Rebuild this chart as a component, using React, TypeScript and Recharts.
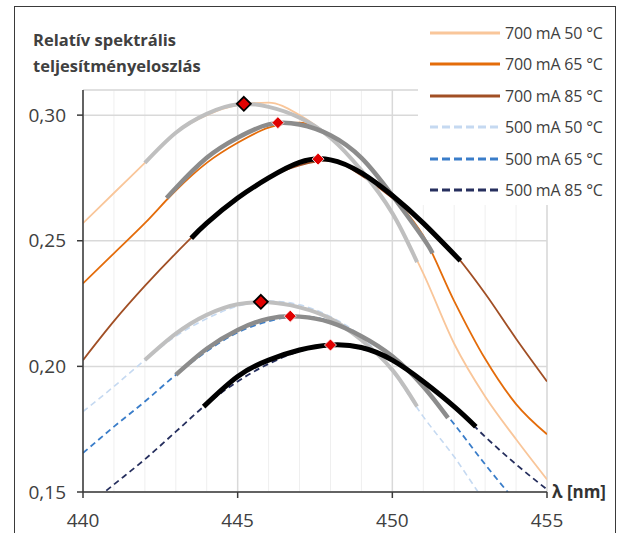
import React from 'react';
import {
  ComposedChart,
  Line,
  Scatter,
  XAxis,
  YAxis,
  CartesianGrid,
} from 'recharts';

// wavelength grid (nm) and measured relative spectral power
const wavelengths = [440, 441, 442, 443, 444, 445, 446, 447, 448, 449, 450, 451, 452, 453, 454, 455];
const s700_50 = [0.257, 0.269, 0.281, 0.293, 0.3, 0.304, 0.305, 0.3, 0.291, 0.278, 0.261, 0.237, 0.209, 0.188, 0.171, 0.155];
const s700_65 = [0.233, 0.245, 0.257, 0.27, 0.281, 0.289, 0.295, 0.297, 0.292, 0.283, 0.268, 0.252, 0.226, 0.203, 0.185, 0.173];
const s700_85 = [0.2025, 0.218, 0.232, 0.245, 0.257, 0.267, 0.275, 0.28, 0.282, 0.276, 0.267, 0.257, 0.245, 0.229, 0.211, 0.194];
const s500_50 = [0.182, 0.192, 0.2025, 0.212, 0.219, 0.224, 0.226, 0.2245, 0.2198, 0.2118, 0.198, 0.18, 0.164, 0.146, 0.13, 0.114];
const s500_65 = [0.1655, 0.176, 0.186, 0.1966, 0.206, 0.2135, 0.218, 0.22, 0.218, 0.212, 0.204, 0.192, 0.177, 0.161, 0.146, 0.132];
const s500_85 = [0.143, 0.153, 0.163, 0.174, 0.185, 0.194, 0.201, 0.206, 0.2085, 0.207, 0.2025, 0.194, 0.184, 0.172, 0.161, 0.151];

// fitted curves around the peaks
const fitA_x = [442, 443, 444, 445, 446, 447, 448, 449, 450, 450.8];
const fitA_y = [0.281, 0.293, 0.3005, 0.3043, 0.3033, 0.299, 0.291, 0.278, 0.261, 0.2415];
const fitB_x = [442.7, 443, 444, 445, 446, 447, 448, 449, 450, 451, 451.3];
const fitB_y = [0.267, 0.271, 0.283, 0.291, 0.2963, 0.2963, 0.292, 0.283, 0.268, 0.251, 0.245];
const fitC_x = [443.5, 444, 445, 446, 447, 448, 449, 450, 451, 452.2];
const fitC_y = [0.251, 0.257, 0.267, 0.275, 0.2812, 0.2822, 0.277, 0.268, 0.257, 0.242];
const fitD_x = [442, 443, 444, 445, 446, 447, 448, 449, 450, 450.8];
const fitD_y = [0.2025, 0.213, 0.2205, 0.2247, 0.2255, 0.2235, 0.219, 0.2105, 0.1986, 0.184];
const fitE_x = [443, 444, 445, 446, 447, 448, 449, 450, 451, 451.8];
const fitE_y = [0.1966, 0.207, 0.2145, 0.219, 0.2198, 0.2175, 0.212, 0.204, 0.192, 0.1795];
const fitF_x = [443.9, 445, 446, 447, 448, 449, 450, 451, 452, 452.7];
const fitF_y = [0.184, 0.196, 0.2025, 0.2065, 0.2085, 0.2075, 0.2025, 0.194, 0.184, 0.176];

// peak markers
const peakX = [445.2, 446.3, 447.6, 445.75, 446.7, 448.0];
const peakY = [0.3045, 0.297, 0.2825, 0.2257, 0.22, 0.2085];
const peakOutlined = [true, false, false, true, false, false];

const xTicks = [440, 445, 450, 455];
const yTicks = [0.15, 0.2, 0.25, 0.3];
const xMinor = [441, 442, 443, 444, 446, 447, 448, 449, 451, 452, 453, 454];
const yMinor = [0.16, 0.17, 0.18, 0.19, 0.21, 0.22, 0.23, 0.24, 0.26, 0.27, 0.28, 0.29, 0.31];

const seriesNames = ['700 mA 50 °C', '700 mA 65 °C', '700 mA 85 °C', '500 mA 50 °C', '500 mA 65 °C', '500 mA 85 °C'];
const seriesColors = ['#f9c69a', '#e46c0a', '#a14f25', '#c5d9f1', '#3a7dc9', '#262f5e'];
const seriesKeys = ['a', 'b', 'c', 'd', 'e', 'f'];
const seriesValues = [s700_50, s700_65, s700_85, s500_50, s500_65, s500_85];

const data = wavelengths.map((x, i) => {
  const row: Record<string, number> = { x };
  seriesKeys.forEach((k, j) => {
    row[k] = seriesValues[j][i];
  });
  return row;
});

const toPts = (xs: number[], ys: number[]) => xs.map((x, i) => ({ x, y: ys[i] }));
const fits = [
  { pts: toPts(fitA_x, fitA_y), color: '#bfbfbf', w: 4 },
  { pts: toPts(fitB_x, fitB_y), color: '#8c8c8c', w: 4.5 },
  { pts: toPts(fitC_x, fitC_y), color: '#000000', w: 5 },
  { pts: toPts(fitD_x, fitD_y), color: '#bfbfbf', w: 4 },
  { pts: toPts(fitE_x, fitE_y), color: '#8c8c8c', w: 4.5 },
  { pts: toPts(fitF_x, fitF_y), color: '#000000', w: 5 },
];
const peaks = peakX.map((x, i) => ({ x, y: peakY[i], outlined: peakOutlined[i] }));

const Diamond = (props: any) => {
  const { cx, cy, payload } = props;
  if (cx == null || cy == null) return null;
  const big = payload && payload.outlined;
  const r = big ? 7 : 6;
  return (
    <polygon
      points={`${cx},${cy - r} ${cx + r},${cy} ${cx},${cy + r} ${cx - r},${cy}`}
      fill="#e00000"
      stroke={big ? '#000000' : '#ffffff'}
      strokeWidth={big ? 1.8 : 0.8}
    />
  );
};

const font = '"Open Sans", sans-serif';

export default function App() {
  return (
    <div
      style={{
        position: 'fixed',
        left: 0,
        top: 0,
        width: 619,
        height: 533,
        overflow: 'hidden',
        background: '#ffffff',
        fontFamily: font,
      }}
    >
      <ComposedChart
        width={619}
        height={533}
        data={data}
        margin={{ top: 90, right: 72, left: 0, bottom: 0 }}
      >
        <XAxis xAxisId="minor" type="number" dataKey="x" domain={[440, 455]} ticks={xMinor} hide />
        <YAxis yAxisId="minor" type="number" domain={[0.15, 0.31]} ticks={yMinor} hide />
        <CartesianGrid xAxisId="minor" yAxisId="minor" stroke="#efefef" strokeWidth={1} />
        <CartesianGrid stroke="#d9d9d9" strokeWidth={1.5} />
        <XAxis
          type="number"
          dataKey="x"
          domain={[440, 455]}
          ticks={xTicks}
          allowDataOverflow
          height={41}
          tickSize={6}
          tickMargin={16}
          axisLine={{ stroke: '#3a3a3a', strokeWidth: 1.5 }}
          tickLine={{ stroke: '#3a3a3a', strokeWidth: 1.5 }}
          tick={{ fill: '#404040', fontSize: 19, fontFamily: font }}
        />
        <YAxis
          type="number"
          domain={[0.15, 0.31]}
          ticks={yTicks}
          allowDataOverflow
          width={83}
          tickSize={6}
          tickMargin={11}
          tickFormatter={(v: number) => v.toFixed(2).replace('.', ',')}
          axisLine={{ stroke: '#3a3a3a', strokeWidth: 1.5 }}
          tickLine={{ stroke: '#3a3a3a', strokeWidth: 1.5 }}
          tick={{ fill: '#404040', fontSize: 19, fontFamily: font }}
        />
        {seriesKeys.map((k, j) => (
          <Line
            key={k}
            dataKey={k}
            name={seriesNames[j]}
            type="monotone"
            stroke={seriesColors[j]}
            strokeWidth={j === 3 ? 1.6 : 1.8}
            strokeDasharray={j >= 3 ? '6 4' : undefined}
            dot={false}
            activeDot={false}
            isAnimationActive={false}
          />
        ))}
        {fits.map((f, i) => (
          <Line
            key={'fit' + i}
            data={f.pts}
            dataKey="y"
            type="natural"
            stroke={f.color}
            strokeWidth={f.w}
            dot={false}
            activeDot={false}
            legendType="none"
            isAnimationActive={false}
          />
        ))}
        <Scatter data={peaks} dataKey="y" shape={<Diamond />} isAnimationActive={false} />
      </ComposedChart>

      {/* legend box */}
      <div
        style={{
          position: 'absolute',
          left: 418,
          top: 9,
          width: 196,
          height: 196,
          background: '#ffffff',
        }}
      >
        {seriesNames.map((n, i) => (
          <div
            key={n}
            style={{
              position: 'absolute',
              left: 12,
              top: 24 + i * 31.4 - 11,
              height: 22,
              display: 'flex',
              alignItems: 'center',
            }}
          >
            <svg width={70} height={6} style={{ marginRight: 5 }}>
              <line
                x1={0}
                y1={3}
                x2={70}
                y2={3}
                stroke={seriesColors[i]}
                strokeWidth={3}
                strokeDasharray={i >= 3 ? '8 4' : undefined}
              />
            </svg>
            <span style={{ fontSize: 16, color: '#404040', whiteSpace: 'nowrap', letterSpacing: -0.2 }}>{n}</span>
          </div>
        ))}
      </div>

      {/* title */}
      <div
        style={{
          position: 'absolute',
          left: 33,
          top: 27,
          fontSize: 16.5,
          fontWeight: 700,
          color: '#404040',
          lineHeight: '26px',
        }}
      >
        Relatív spektrális
        <br />
        teljesítményeloszlás
      </div>

      {/* x axis title */}
      <div
        style={{
          position: 'absolute',
          left: 552,
          top: 480,
          fontSize: 17,
          fontWeight: 700,
          color: '#333333',
        }}
      >
        λ [nm]
      </div>

      {/* outer frame */}
      <div
        style={{
          position: 'absolute',
          left: 14,
          top: 6,
          width: 602,
          height: 540,
          border: '1.5px solid #3a3a3a',
          boxSizing: 'border-box',
        }}
      />
    </div>
  );
}
